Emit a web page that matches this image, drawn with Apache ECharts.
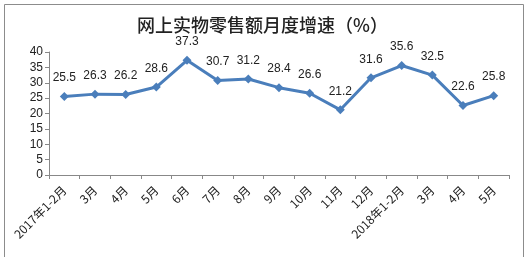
<!DOCTYPE html>
<html><head><meta charset="utf-8">
<script src="https://cdn.jsdelivr.net/npm/echarts@6/dist/echarts.min.js"></script>
<style>html,body{margin:0;padding:0;background:#fff}#c{width:525px;height:257px}</style>
</head><body><div id="c"></div>
<script>
var categories = ['2017年1-2月','3月','4月','5月','6月','7月','8月','9月','10月','11月','12月','2018年1-2月','3月','4月','5月'];
var values = [25.5,26.3,26.2,28.6,37.3,30.7,31.2,28.4,26.6,21.2,31.6,35.6,32.5,22.6,25.8];
var yTicks = [0,5,10,15,20,25,30,35,40];
var chart = echarts.init(document.getElementById('c'), null, {renderer:'canvas'});
chart.setOption({
  animation:false,
  backgroundColor:'#fff',
  graphic:[{type:'rect',left:2,top:2,shape:{width:519,height:253},style:{fill:'none',stroke:'#8c8c8c',lineWidth:1}}],
  title:{text:'网上实物零售额月度增速（%）',left:'center',top:11,textStyle:{fontFamily:'Noto Sans CJK SC',fontSize:18,fontWeight:500,color:'#222'}},
  grid:{left:49,right:16,top:52,bottom:82},
  xAxis:{type:'category',data:categories,boundaryGap:true,
    axisLine:{lineStyle:{color:'#888',width:1}},
    axisTick:{show:true,length:4,lineStyle:{color:'#888'}},
    axisLabel:{rotate:45,fontSize:12,color:'#222',fontFamily:'Noto Sans CJK SC',margin:13,interval:0}},
  yAxis:{type:'value',min:yTicks[0],max:yTicks[yTicks.length-1],interval:5,
    axisLine:{show:true,lineStyle:{color:'#888'}},
    axisTick:{show:true,length:4,lineStyle:{color:'#888'}},
    splitLine:{show:false},
    axisLabel:{fontSize:12,color:'#222',fontFamily:'Liberation Sans',margin:6}},
  series:[{type:'line',data:values,symbol:'diamond',symbolSize:9,
    lineStyle:{color:'#4a7ebb',width:3},itemStyle:{color:'#4a7ebb'},
    label:{show:true,position:'top',distance:8,fontSize:12,color:'#222',fontFamily:'Liberation Sans'}}]
});
</script></body></html>
